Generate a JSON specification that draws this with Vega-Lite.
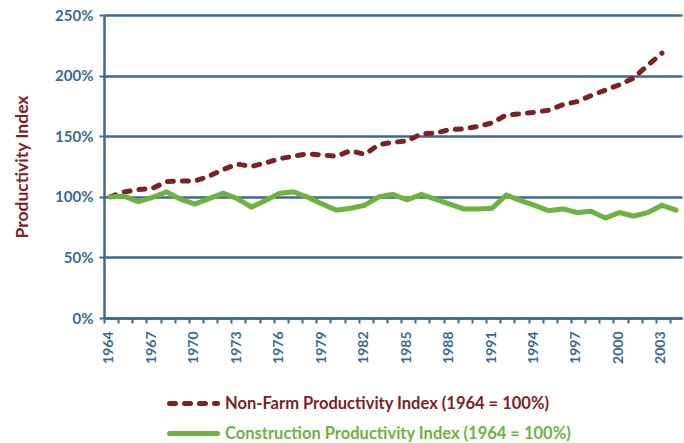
{
  "$schema": "https://vega.github.io/schema/vega-lite/v6.json",
  "width": 578,
  "height": 303,
  "autosize": "none",
  "padding": {"left": 104, "top": 15, "right": 2, "bottom": 125},
  "background": "white",
  "config": {"view": {"stroke": null}, "font": "Lato"},
  "data": {"values": [
    {"year": 1964, "series": "Non-Farm Productivity Index (1964 = 100%)", "value": 100},
    {"year": 1965, "series": "Non-Farm Productivity Index (1964 = 100%)", "value": 104},
    {"year": 1966, "series": "Non-Farm Productivity Index (1964 = 100%)", "value": 106},
    {"year": 1967, "series": "Non-Farm Productivity Index (1964 = 100%)", "value": 107},
    {"year": 1968, "series": "Non-Farm Productivity Index (1964 = 100%)", "value": 112.5},
    {"year": 1969, "series": "Non-Farm Productivity Index (1964 = 100%)", "value": 113},
    {"year": 1970, "series": "Non-Farm Productivity Index (1964 = 100%)", "value": 113},
    {"year": 1971, "series": "Non-Farm Productivity Index (1964 = 100%)", "value": 117},
    {"year": 1972, "series": "Non-Farm Productivity Index (1964 = 100%)", "value": 122.5},
    {"year": 1973, "series": "Non-Farm Productivity Index (1964 = 100%)", "value": 127},
    {"year": 1974, "series": "Non-Farm Productivity Index (1964 = 100%)", "value": 125},
    {"year": 1975, "series": "Non-Farm Productivity Index (1964 = 100%)", "value": 128},
    {"year": 1976, "series": "Non-Farm Productivity Index (1964 = 100%)", "value": 131.5},
    {"year": 1977, "series": "Non-Farm Productivity Index (1964 = 100%)", "value": 133.5},
    {"year": 1978, "series": "Non-Farm Productivity Index (1964 = 100%)", "value": 135.5},
    {"year": 1979, "series": "Non-Farm Productivity Index (1964 = 100%)", "value": 134.5},
    {"year": 1980, "series": "Non-Farm Productivity Index (1964 = 100%)", "value": 133.5},
    {"year": 1981, "series": "Non-Farm Productivity Index (1964 = 100%)", "value": 138},
    {"year": 1982, "series": "Non-Farm Productivity Index (1964 = 100%)", "value": 135},
    {"year": 1983, "series": "Non-Farm Productivity Index (1964 = 100%)", "value": 143},
    {"year": 1984, "series": "Non-Farm Productivity Index (1964 = 100%)", "value": 145},
    {"year": 1985, "series": "Non-Farm Productivity Index (1964 = 100%)", "value": 146},
    {"year": 1986, "series": "Non-Farm Productivity Index (1964 = 100%)", "value": 152},
    {"year": 1987, "series": "Non-Farm Productivity Index (1964 = 100%)", "value": 152.5},
    {"year": 1988, "series": "Non-Farm Productivity Index (1964 = 100%)", "value": 155.5},
    {"year": 1989, "series": "Non-Farm Productivity Index (1964 = 100%)", "value": 156},
    {"year": 1990, "series": "Non-Farm Productivity Index (1964 = 100%)", "value": 158},
    {"year": 1991, "series": "Non-Farm Productivity Index (1964 = 100%)", "value": 161},
    {"year": 1992, "series": "Non-Farm Productivity Index (1964 = 100%)", "value": 167.5},
    {"year": 1993, "series": "Non-Farm Productivity Index (1964 = 100%)", "value": 168.5},
    {"year": 1994, "series": "Non-Farm Productivity Index (1964 = 100%)", "value": 169.7},
    {"year": 1995, "series": "Non-Farm Productivity Index (1964 = 100%)", "value": 171.5},
    {"year": 1996, "series": "Non-Farm Productivity Index (1964 = 100%)", "value": 176},
    {"year": 1997, "series": "Non-Farm Productivity Index (1964 = 100%)", "value": 178.5},
    {"year": 1998, "series": "Non-Farm Productivity Index (1964 = 100%)", "value": 183.5},
    {"year": 1999, "series": "Non-Farm Productivity Index (1964 = 100%)", "value": 188},
    {"year": 2000, "series": "Non-Farm Productivity Index (1964 = 100%)", "value": 192.5},
    {"year": 2001, "series": "Non-Farm Productivity Index (1964 = 100%)", "value": 198},
    {"year": 2002, "series": "Non-Farm Productivity Index (1964 = 100%)", "value": 208.5},
    {"year": 2003, "series": "Non-Farm Productivity Index (1964 = 100%)", "value": 218.5},
    {"year": 1964, "series": "Construction Productivity Index (1964 = 100%)", "value": 100},
    {"year": 1965, "series": "Construction Productivity Index (1964 = 100%)", "value": 100.5},
    {"year": 1966, "series": "Construction Productivity Index (1964 = 100%)", "value": 96},
    {"year": 1967, "series": "Construction Productivity Index (1964 = 100%)", "value": 99.5},
    {"year": 1968, "series": "Construction Productivity Index (1964 = 100%)", "value": 104},
    {"year": 1969, "series": "Construction Productivity Index (1964 = 100%)", "value": 98},
    {"year": 1970, "series": "Construction Productivity Index (1964 = 100%)", "value": 94},
    {"year": 1971, "series": "Construction Productivity Index (1964 = 100%)", "value": 98.5},
    {"year": 1972, "series": "Construction Productivity Index (1964 = 100%)", "value": 103},
    {"year": 1973, "series": "Construction Productivity Index (1964 = 100%)", "value": 98.5},
    {"year": 1974, "series": "Construction Productivity Index (1964 = 100%)", "value": 91.5},
    {"year": 1975, "series": "Construction Productivity Index (1964 = 100%)", "value": 97},
    {"year": 1976, "series": "Construction Productivity Index (1964 = 100%)", "value": 103},
    {"year": 1977, "series": "Construction Productivity Index (1964 = 100%)", "value": 104},
    {"year": 1978, "series": "Construction Productivity Index (1964 = 100%)", "value": 99.5},
    {"year": 1979, "series": "Construction Productivity Index (1964 = 100%)", "value": 94},
    {"year": 1980, "series": "Construction Productivity Index (1964 = 100%)", "value": 89},
    {"year": 1981, "series": "Construction Productivity Index (1964 = 100%)", "value": 90.5},
    {"year": 1982, "series": "Construction Productivity Index (1964 = 100%)", "value": 93},
    {"year": 1983, "series": "Construction Productivity Index (1964 = 100%)", "value": 100},
    {"year": 1984, "series": "Construction Productivity Index (1964 = 100%)", "value": 102},
    {"year": 1985, "series": "Construction Productivity Index (1964 = 100%)", "value": 97.5},
    {"year": 1986, "series": "Construction Productivity Index (1964 = 100%)", "value": 102},
    {"year": 1987, "series": "Construction Productivity Index (1964 = 100%)", "value": 98},
    {"year": 1988, "series": "Construction Productivity Index (1964 = 100%)", "value": 94},
    {"year": 1989, "series": "Construction Productivity Index (1964 = 100%)", "value": 90},
    {"year": 1990, "series": "Construction Productivity Index (1964 = 100%)", "value": 90},
    {"year": 1991, "series": "Construction Productivity Index (1964 = 100%)", "value": 90.5},
    {"year": 1992, "series": "Construction Productivity Index (1964 = 100%)", "value": 101.5},
    {"year": 1993, "series": "Construction Productivity Index (1964 = 100%)", "value": 97},
    {"year": 1994, "series": "Construction Productivity Index (1964 = 100%)", "value": 93},
    {"year": 1995, "series": "Construction Productivity Index (1964 = 100%)", "value": 88.5},
    {"year": 1996, "series": "Construction Productivity Index (1964 = 100%)", "value": 90},
    {"year": 1997, "series": "Construction Productivity Index (1964 = 100%)", "value": 87},
    {"year": 1998, "series": "Construction Productivity Index (1964 = 100%)", "value": 88},
    {"year": 1999, "series": "Construction Productivity Index (1964 = 100%)", "value": 82.5},
    {"year": 2000, "series": "Construction Productivity Index (1964 = 100%)", "value": 87},
    {"year": 2001, "series": "Construction Productivity Index (1964 = 100%)", "value": 84},
    {"year": 2002, "series": "Construction Productivity Index (1964 = 100%)", "value": 87},
    {"year": 2003, "series": "Construction Productivity Index (1964 = 100%)", "value": 93},
    {"year": 2004, "series": "Construction Productivity Index (1964 = 100%)", "value": 89}
  ]},
  "mark": {"type": "line", "strokeWidth": 5, "strokeCap": "round", "strokeJoin": "round"},
  "encoding": {
    "x": {
      "field": "year", "type": "quantitative",
      "scale": {"domain": [1963.58, 2004.42], "nice": false, "zero": false},
      "axis": {
        "title": null,
        "values": [1964,1965,1966,1967,1968,1969,1970,1971,1972,1973,1974,1975,1976,1977,1978,1979,1980,1981,1982,1983,1984,1985,1986,1987,1988,1989,1990,1991,1992,1993,1994,1995,1996,1997,1998,1999,2000,2001,2002,2003,2004],
        "labelExpr": "(datum.value - 1964) % 3 == 0 ? '' + datum.value : ''",
        "tickOffset": -6,
        "labelOffset": 5,
        "labelAngle": -90,
        "labelFontSize": 14,
        "labelFontWeight": "bold",
        "labelColor": "#3a6a8f",
        "labelPadding": 8,
        "labelFlush": false,
        "labelOverlap": false,
        "tickColor": "#3d6a8c",
        "tickSize": 5,
        "tickWidth": 2,
        "domainColor": "#3d6a8c",
        "domainWidth": 2.5,
        "grid": false
      }
    },
    "y": {
      "field": "value", "type": "quantitative",
      "scale": {"domain": [0, 250], "nice": false},
      "axis": {
        "title": "Productivity Index",
        "titleColor": "#7b2226",
        "titleFontSize": 17.5,
        "titleFontWeight": "bold",
        "titlePadding": 23,
        "values": [0, 50, 100, 150, 200, 250],
        "labelExpr": "datum.value + '%'",
        "labelFontSize": 15,
        "labelFontWeight": "bold",
        "labelColor": "#3a6a8f",
        "labelPadding": 6,
        "tickColor": "#3d6a8c",
        "tickSize": 5,
        "tickWidth": 2,
        "domainColor": "#3d6a8c",
        "domainWidth": 2.5,
        "grid": true,
        "gridColor": "#3d6a8c",
        "gridWidth": 2.5,
        "gridOpacity": 1
      }
    },
    "color": {
      "field": "series", "type": "nominal",
      "scale": {
        "domain": ["Non-Farm Productivity Index (1964 = 100%)", "Construction Productivity Index (1964 = 100%)"],
        "range": ["#7b2226", "#6cb33f"]
      },
      "legend": {
        "orient": "none",
        "legendX": 75,
        "legendY": 374,
        "direction": "vertical",
        "title": null,
        "symbolType": "M-2,0H2",
        "symbolSize": 576,
        "symbolStrokeWidth": 5,
        "labelOffset": 17,
        "labelFontSize": 16.5,
        "labelFontWeight": "bold",
        "labelLimit": 500,
        "rowPadding": 5,
        "encode": {
          "labels": {"update": {"fill": {"signal": "indexof(datum.label, 'Construction') >= 0 ? '#6cb33f' : '#7b2226'"}}},
          "symbols": {"update": {"strokeCap": {"value": "round"}}}
        }
      }
    },
    "strokeDash": {
      "field": "series", "type": "nominal",
      "scale": {
        "domain": ["Non-Farm Productivity Index (1964 = 100%)", "Construction Productivity Index (1964 = 100%)"],
        "range": [[6, 9], [1, 0]]
      },
      "legend": null
    }
  }
}
